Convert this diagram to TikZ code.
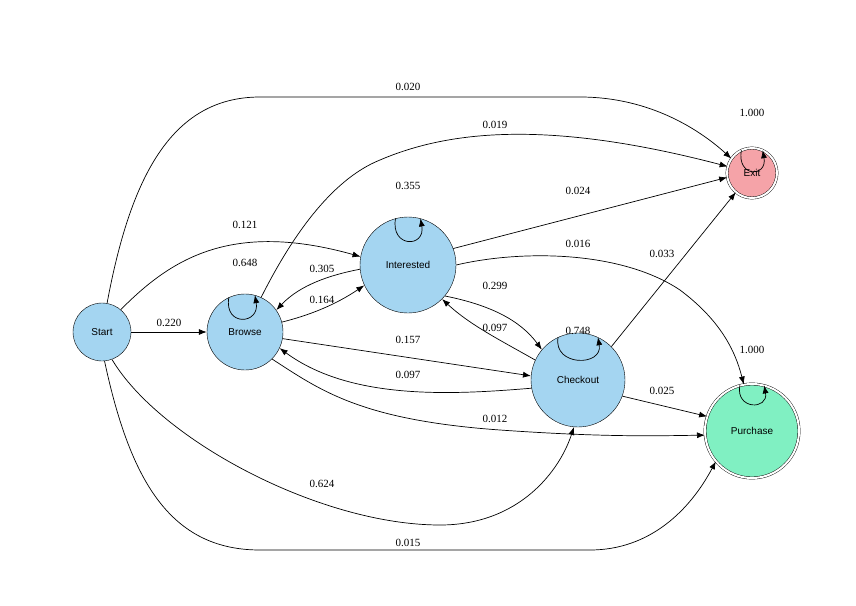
\documentclass[tikz,border=0pt]{standalone}
\usepackage{fontspec}
\setmainfont{Liberation Serif}
\setsansfont{Liberation Sans}
\usetikzlibrary{arrows.meta}
\definecolor{sb}{HTML}{A4D5F1}
\definecolor{ex}{HTML}{F5A3A8}
\definecolor{pu}{HTML}{80F0C2}
\begin{document}
\begin{tikzpicture}[x=1pt,y=-1pt,
 st/.style={circle,draw,fill=sb,font=\sffamily\fontsize{10}{12}\selectfont,inner sep=0pt},
 fin/.style={circle,draw,double=white,double distance=2pt,font=\sffamily\fontsize{10}{12}\selectfont,inner sep=0pt},
 e/.style={-{Latex[length=8pt,width=6pt]},line width=0.7pt},
 lb/.style={font=\fontsize{11}{13}\selectfont,fill=none}]
\useasboundingbox (0,0) rectangle (856,605);
\node[st,minimum size=58pt] (s) at (102,332) {Start};
\node[st,minimum size=76pt] (b) at (245,332) {Browse};
\node[st,minimum size=96pt] (i) at (408,265) {Interested};
\node[st,minimum size=94pt] (c) at (578,380) {Checkout};
\node[fin,fill=ex,minimum size=50pt] (x) at (752,173) {Exit};
\node[fin,fill=pu,minimum size=94pt] (p) at (752,431) {Purchase};
% Start
\draw[e] (s.80) .. controls (130,180) and (170,97) .. (260,97) -- (580,97) .. controls (650,97) and (700,130) .. (x.145);
\node[lb] at (408,87) {0.020};
\draw[e] (s) -- (b); \node[lb] at (169,323) {0.220};
\draw[e] (s.50) .. controls (170,260) and (230,220) .. (i.170); \node[lb] at (245,225) {0.121};
\draw[e] (s.-70) .. controls (160,440) and (320,525) .. (440,525) .. controls (520,525) and (560,470) .. (c.-95); \node[lb] at (322,484) {0.624};
\draw[e] (s.-85) .. controls (130,480) and (170,550) .. (260,550) -- (590,550) .. controls (650,550) and (690,510) .. (p.-140); \node[lb] at (408,543) {0.015};
% Browse
\draw[e] (b.65) .. controls (290,240) and (330,180) .. (380,160) .. controls (450,130) and (550,120) .. (x.165); \node[lb] at (495,125) {0.019};
\draw[e] (b.115) .. controls +(100:30) and +(80:30) .. (b.75); \node[lb] at (245,263) {0.648};
\draw[e] (b.15) .. controls (310,315) and (335,305) .. (i.205); \node[lb] at (322,300) {0.164};
\draw[e] (b.-10) -- (c.175); \node[lb] at (408,340) {0.157};
\draw[e] (b.-45) .. controls (320,390) and (360,420) .. (500,430) .. controls (600,437) and (650,436) .. (p.185); \node[lb] at (495,419) {0.012};
% Interested
\draw[e] (i.185) .. controls (330,275) and (300,285) .. (b.35); \node[lb] at (322,269) {0.305};
\draw[e] (i.105) .. controls +(100:30) and +(80:30) .. (i.75); \node[lb] at (408,186) {0.355};
\draw[e] (i.20) -- (x.190); \node[lb] at (578,191) {0.024};
\draw[e] (i.0) .. controls (520,250) and (620,250) .. (680,290) .. controls (720,320) and (735,350) .. (p.100); \node[lb] at (578,244) {0.016};
\draw[e] (i.-40) .. controls (490,305) and (520,320) .. (c.140); \node[lb] at (495,286) {0.299};
% Checkout
\draw[e] (c.155) .. controls (500,340) and (470,325) .. (i.-45); \node[lb] at (495,328) {0.097};
\draw[e] (c.115) .. controls +(100:30) and +(80:30) .. (c.65); \node[lb] at (578,331) {0.748};
\draw[e] (c.45) -- (x.-130); \node[lb] at (662,254) {0.033};
\draw[e] (c.190) .. controls (450,395) and (350,400) .. (b.-25); \node[lb] at (408,375) {0.097};
\draw[e] (c.-20) -- (p.162); \node[lb] at (662,391) {0.025};
% finals
\draw[e] (x.115) .. controls +(100:28) and +(80:28) .. (x.65); \node[lb] at (752,113) {1.000};
\draw[e] (p.105) .. controls +(100:25) and +(80:25) .. (p.75); \node[lb] at (752,350) {1.000};
\end{tikzpicture}
\end{document}
